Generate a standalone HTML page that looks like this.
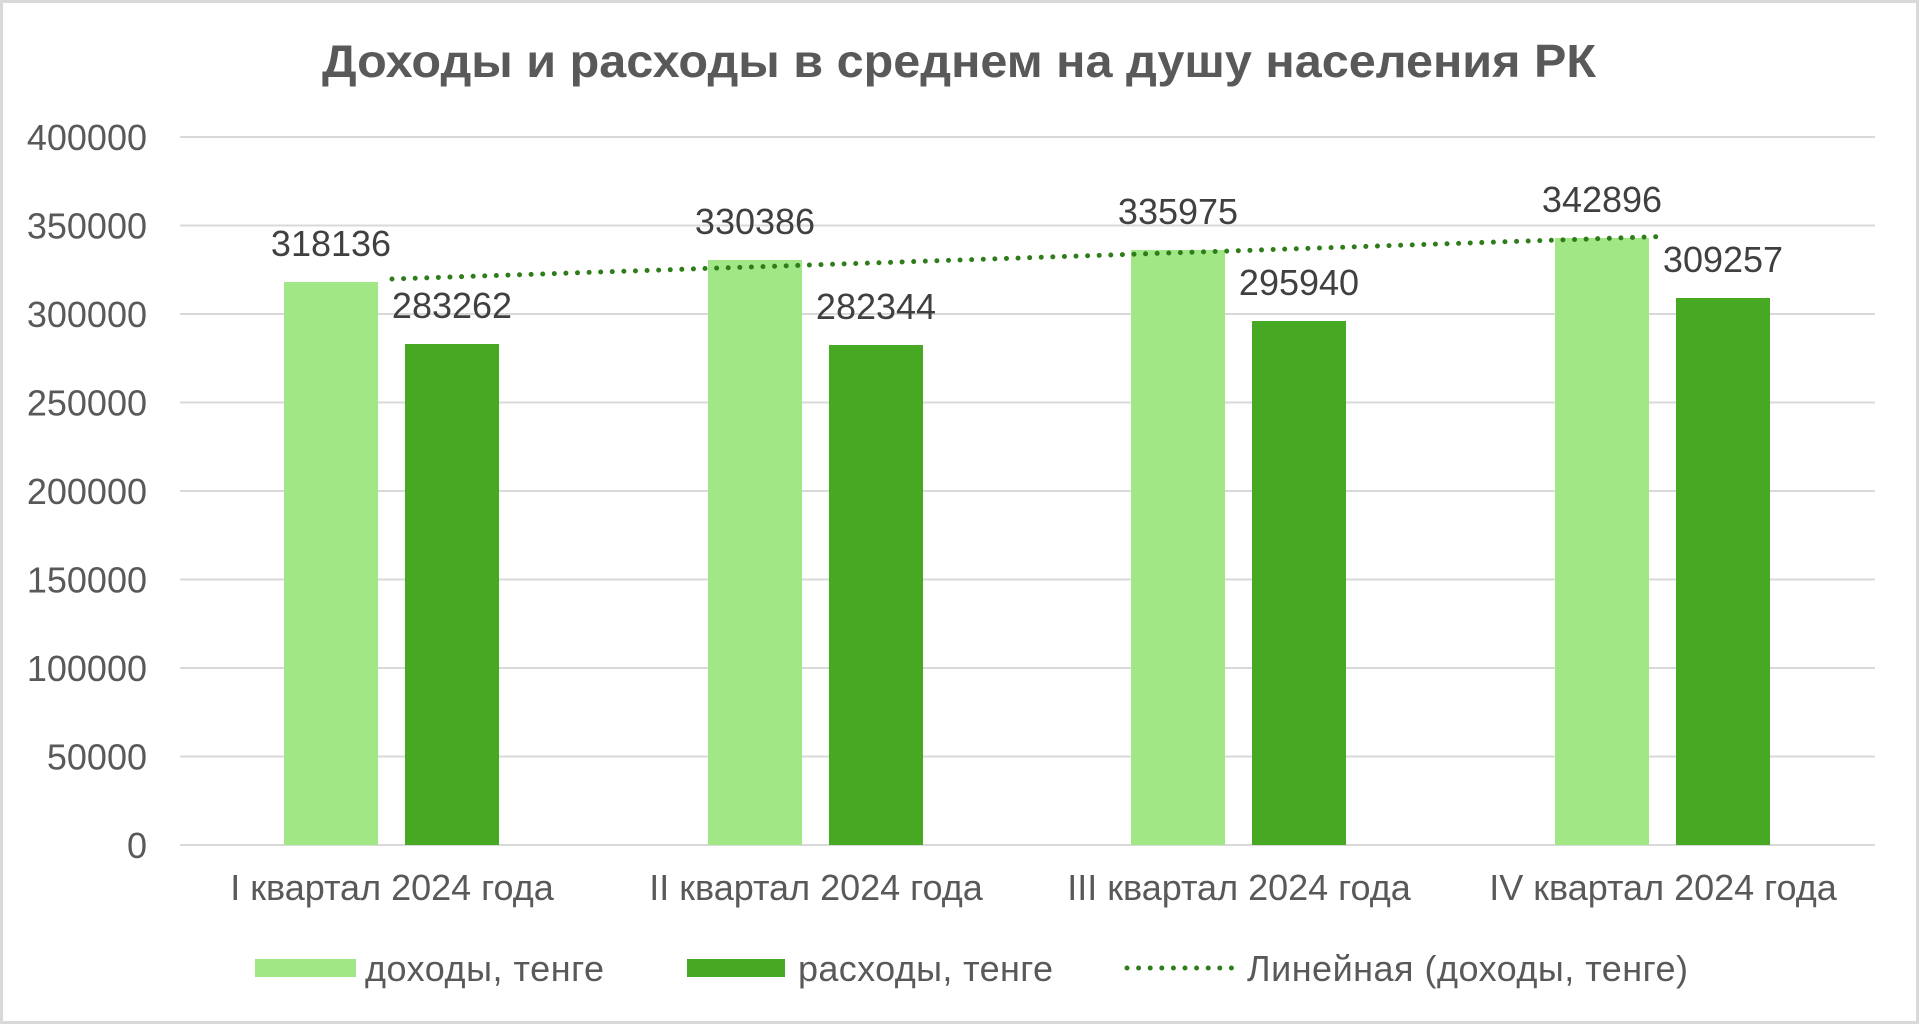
<!DOCTYPE html>
<html><head><meta charset="utf-8"><style>
html,body{margin:0;padding:0;background:#fff}
svg{display:block}
text{font-family:"Liberation Sans",Arial,sans-serif}
</style></head><body>
<svg width="1920" height="1025" viewBox="0 0 1920 1025" xmlns="http://www.w3.org/2000/svg">
<rect x="1.5" y="1.5" width="1916" height="1021" fill="#fff" stroke="#d9d9d9" stroke-width="3"/>
<text x="322" y="77" font-size="46" font-weight="bold" fill="#595959" textLength="1274" lengthAdjust="spacingAndGlyphs">Доходы и расходы в среднем на душу населения РК</text>
<g stroke="#d9d9d9" stroke-width="2">
<line x1="180" x2="1875" y1="137" y2="137"/>
<line x1="180" x2="1875" y1="225.5" y2="225.5"/>
<line x1="180" x2="1875" y1="314" y2="314"/>
<line x1="180" x2="1875" y1="402.5" y2="402.5"/>
<line x1="180" x2="1875" y1="491" y2="491"/>
<line x1="180" x2="1875" y1="579.5" y2="579.5"/>
<line x1="180" x2="1875" y1="668" y2="668"/>
<line x1="180" x2="1875" y1="756.5" y2="756.5"/>
<line x1="180" x2="1875" y1="845" y2="845"/>
</g>
<g font-size="36" fill="#595959" text-anchor="end">
<text x="147" y="150">400000</text>
<text x="147" y="238.5">350000</text>
<text x="147" y="327">300000</text>
<text x="147" y="415.5">250000</text>
<text x="147" y="504">200000</text>
<text x="147" y="592.5">150000</text>
<text x="147" y="681">100000</text>
<text x="147" y="769.5">50000</text>
<text x="147" y="858">0</text>
</g>
<g fill="#a1e786">
<rect x="284" y="282" width="94" height="563"/>
<rect x="708" y="260" width="94" height="585"/>
<rect x="1131" y="250" width="94" height="595"/>
<rect x="1555" y="238" width="94" height="607"/>
</g>
<g fill="#47a823">
<rect x="405" y="344" width="94" height="501"/>
<rect x="829" y="345" width="94" height="500"/>
<rect x="1252" y="321" width="94" height="524"/>
<rect x="1676" y="298" width="94" height="547"/>
</g>
<line x1="392" y1="279" x2="1663" y2="236.5" stroke="#2e7d1a" stroke-width="5" stroke-linecap="round" stroke-dasharray="0 11.6"/>
<g font-size="36" fill="#404040" text-anchor="middle">
<text x="331" y="256">318136</text>
<text x="452" y="318">283262</text>
<text x="755" y="234">330386</text>
<text x="876" y="319">282344</text>
<text x="1178" y="224">335975</text>
<text x="1299" y="295">295940</text>
<text x="1602" y="212">342896</text>
<text x="1723" y="272">309257</text>
</g>
<g font-size="36" fill="#595959" text-anchor="middle">
<text x="392" y="900">I квартал 2024 года</text>
<text x="816" y="900">II квартал 2024 года</text>
<text x="1239" y="900">III квартал 2024 года</text>
<text x="1663" y="900">IV квартал 2024 года</text>
</g>
<rect x="255" y="959" width="101" height="18" fill="#a1e786"/>
<rect x="687" y="959" width="98" height="18" fill="#47a823"/>
<line x1="1127" y1="968" x2="1237" y2="968" stroke="#2e7d1a" stroke-width="5" stroke-linecap="round" stroke-dasharray="0 11.6"/>
<g font-size="36" fill="#595959">
<text x="365" y="981" textLength="239" lengthAdjust="spacing">доходы, тенге</text>
<text x="798" y="981" textLength="255" lengthAdjust="spacing">расходы, тенге</text>
<text x="1247" y="981" textLength="441" lengthAdjust="spacing">Линейная (доходы, тенге)</text>
</g>
</svg>
</body></html>
